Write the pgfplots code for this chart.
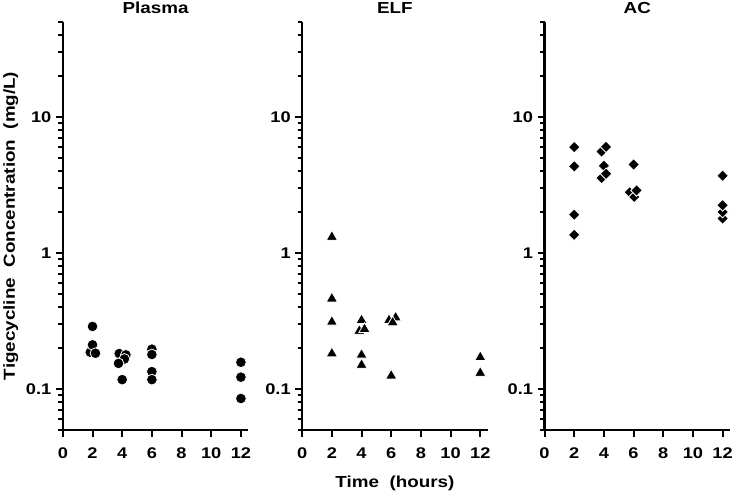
\documentclass[border=0pt]{standalone}
\usepackage{fontspec}
\setmainfont{Liberation Sans}[FakeStretch=1.18]
\usepackage{pgfplots}
\pgfplotsset{compat=1.18}

\pgfplotsset{
  panel/.style={
    scale only axis, width=186pt, height=409pt,
    xmin=0, xmax=12.5, ymin=0.05, ymax=50,
    axis x line=bottom, axis y line=left,
    axis line style={-, line width=2.2pt},
    every tick/.style={black, line width=2pt},
    tick align=outside,
    major tick length=7pt, minor tick length=4.5pt,
    xtick={0,2,4,6,8,10,12},
    xticklabels={0,2,4,6,8,10,12},
    ytick={0.1,1,10},
    yticklabels={0.1,1,10},
    minor ytick={0.05,0.06,0.07,0.08,0.09,0.2,0.3,0.4,0.5,0.6,0.7,0.8,0.9,2,3,4,5,6,7,8,9,20,30,40,50},
    tick label style={font=\fontsize{15.5}{17}\selectfont\bfseries},
    xticklabel style={yshift=-7.5pt},
    yticklabel style={xshift=-1pt},
    title style={font=\fontsize{16}{18}\selectfont\bfseries, anchor=base, yshift=2pt},
    clip=false,
  },
  dot/.style={only marks, mark=*, mark size=5.4pt, mark options={fill=black, draw=white, line width=0.8pt}},
  tri/.style={only marks, mark=triangle*, mark size=6.5pt, mark options={fill=black, draw=white, line width=0.8pt}},
  dia/.style={only marks, mark=square*, mark size=4.1pt, mark options={rotate=45, fill=black, draw=white, line width=0.8pt}},
}

\begin{document}
\begin{tikzpicture}
\useasboundingbox (-63pt,-64pt) rectangle (672pt,431pt);

% Plasma
\begin{semilogyaxis}[panel, at={(0pt,0pt)}, title={Plasma}]
  \addplot[dot] coordinates {
    (1.85,0.186) (2.0,0.288) (2.0,0.211) (2.2,0.183)
    (3.8,0.182) (4.25,0.178) (4.15,0.166) (3.75,0.154) (4.0,0.117)
    (6.0,0.196) (6.0,0.179) (6.0,0.134) (6.0,0.117)
    (12,0.157) (12,0.122) (12,0.085)
  };
\end{semilogyaxis}

% ELF
\begin{semilogyaxis}[panel, at={(240pt,0pt)}, title={ELF}]
  \addplot[tri] coordinates {
    (2.0,1.31) (2.0,0.461) (2.0,0.311) (2.0,0.182)
    (3.85,0.267) (4.0,0.32) (4.2,0.275) (4.0,0.178) (4.0,0.150)
    (5.85,0.32) (6.3,0.335) (6.1,0.308) (6.0,0.125)
    (12,0.171) (12,0.131)
  };
\end{semilogyaxis}

% AC
\begin{semilogyaxis}[panel, at={(483pt,0pt)}, title={AC}]
  \addplot[dia] coordinates {
    (2,6.0) (2,4.33) (2,1.91) (2,1.36)
    (3.85,5.57) (4.15,6.03) (4.0,4.38) (3.85,3.56) (4.15,3.82)
    (6.0,4.47) (5.75,2.79) (6.05,2.58) (6.2,2.88)
    (12,3.70) (12,1.79) (12,2.0) (12,2.24)
  };
\end{semilogyaxis}

\node[rotate=90, anchor=base, font=\fontsize{16}{18}\selectfont\bfseries] at (-48pt,204.5pt) {Tigecycline~~Concentration~~(mg/L)};
\node[anchor=base, font=\fontsize{16}{18}\selectfont\bfseries] at (333pt,-58pt) {Time~~(hours)};
\end{tikzpicture}
\end{document}
